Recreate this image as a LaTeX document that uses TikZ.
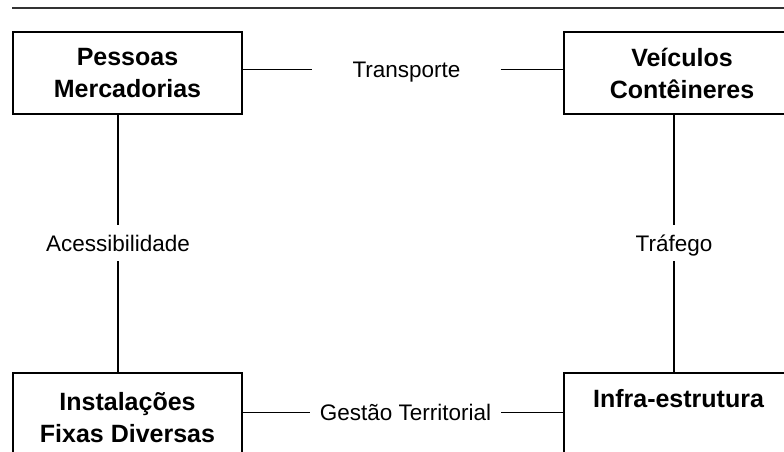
\documentclass[tikz,border=0pt]{standalone}
\usepackage{fontspec}
\setmainfont{Liberation Sans}
\begin{document}
\begin{tikzpicture}[x=1pt,y=-1pt,
 box/.style={draw, line width=2pt, minimum width=229pt, minimum height=82pt, inner sep=0pt, anchor=north west},
 boxtext/.style={font=\fontsize{25}{32}\selectfont\bfseries, align=center, inner sep=0pt},
 lbl/.style={font=\fontsize{22.5}{27}\selectfont, inner ysep=10pt, text height=16pt, text depth=0pt},
 conn/.style={line width=1.4pt}]
\useasboundingbox (0,0) rectangle (784,452);
\fill[white] (0,0) rectangle (784,452);
\clip (0,0) rectangle (784,452);
\coordinate (ruleL) at (12,8);
\coordinate (ruleR) at (790,8);
\draw[line width=2.3pt, color=black!80] (ruleL) -- (ruleR);

\node[box] (PM) at (12,31) {};
\node[boxtext] (PMt) at (PM.center) {Pessoas\\Mercadorias};
\node[box, minimum width=236pt] (VC) at (563,31) {};
\node[boxtext] (VCt) at (VC.center) {Veículos\\Contêineres};
\node[box, minimum height=100pt] (IF) at (12,372) {};
\node[boxtext, anchor=north] (IFt) at ([yshift=-20.5pt]IF.north) {Instalações\\Fixas Diversas};
\node[box, minimum width=236pt, minimum height=100pt] (IE) at (563,372) {};
\node[boxtext, anchor=north] (IEt) at ([xshift=-3.5pt,yshift=-17pt]IE.north) {Infra-estrutura};

\node[lbl, inner xsep=40pt] (T) at (406.5,69.5) {Transporte};
\node[lbl, inner xsep=10pt] (G) at (405.5,412.5) {Gestão Territorial};
\node[lbl, inner xsep=0pt] (A) at (118,243) {Acessibilidade};
\node[lbl, inner xsep=0pt] (R) at (674,243) {Tráfego};

\draw[conn] (PM.east |- T.west) -- (T.west);
\draw[conn] (T.east) -- (VC.west |- T.east);
\draw[conn] (IF.east |- G.west) -- (G.west);
\draw[conn] (G.east) -- (IE.west |- G.east);
\draw[conn] (PM.south -| A.north) -- (A.north);
\draw[conn] (A.south) -- (IF.north -| A.south);
\draw[conn] (VC.south -| R.north) -- (R.north);
\draw[conn] (R.south) -- (IE.north -| R.south);
\end{tikzpicture}
\end{document}
